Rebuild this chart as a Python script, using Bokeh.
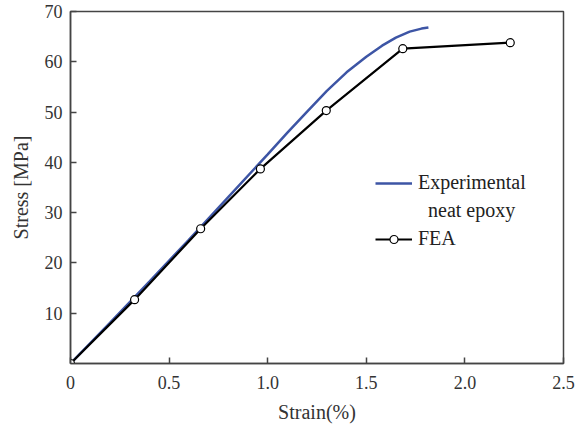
from bokeh.plotting import figure
from bokeh.models import FixedTicker, Legend, LegendItem, Range1d
from bokeh.embed import file_html
from bokeh.resources import INLINE

# Experimental neat epoxy curve
exp_strain = [0.0, 0.2, 0.4, 0.6, 0.8, 1.0, 1.1, 1.2, 1.3, 1.4, 1.5, 1.58, 1.65, 1.72, 1.78, 1.815]
exp_stress = [0.0, 8.1, 16.3, 24.6, 33.1, 41.6, 45.9, 50.1, 54.2, 57.9, 61.0, 63.2, 64.8, 66.0, 66.6, 66.8]

# FEA points
fea_strain = [0.0, 0.325, 0.66, 0.963, 1.297, 1.685, 2.23]
fea_stress = [0.0, 12.7, 26.8, 38.7, 50.3, 62.6, 63.8]

x_ticks = [0, 0.5, 1.0, 1.5, 2.0, 2.5]
x_tick_labels = ["0", "0.5", "1.0", "1.5", "2.0", "2.5"]
y_ticks = [10, 20, 30, 40, 50, 60, 70]

FONT = "Liberation Serif"

p = figure(width=586, height=424, output_backend="svg", toolbar_location=None,
           x_range=Range1d(0, 2.5), y_range=Range1d(0, 70),
           min_border_left=70, min_border_right=23, min_border_top=11, min_border_bottom=61)
p.frame_width = 493
p.frame_height = 352
p.grid.visible = False
p.outline_line_color = "#444444"
p.outline_line_width = 1.5
p.background_fill_color = "white"
p.border_fill_color = "white"

for ax in (p.xaxis[0], p.yaxis[0]):
    ax.axis_line_color = "#444444"
    ax.axis_line_width = 1.5
    ax.major_tick_line_color = "#444444"
    ax.major_tick_line_width = 1.5
    ax.major_tick_in = 6
    ax.major_tick_out = 0
    ax.minor_tick_line_color = None
    ax.major_label_text_font = FONT
    ax.major_label_text_font_size = "18px"
    ax.major_label_text_color = "#333333"
    ax.axis_label_text_font = FONT
    ax.axis_label_text_font_size = "20px"
    ax.axis_label_text_font_style = "normal"
    ax.axis_label_text_color = "#333333"

p.xaxis.ticker = FixedTicker(ticks=x_ticks)
p.xaxis.major_label_overrides = {t: l for t, l in zip(x_ticks, x_tick_labels)}
p.xaxis.axis_label = "Strain(%)"
p.xaxis.major_label_standoff = 12
p.xaxis.axis_label_standoff = 9
p.yaxis.ticker = FixedTicker(ticks=y_ticks)
p.yaxis.axis_label = "Stress [MPa]"
p.yaxis.major_label_standoff = 8
p.yaxis.axis_label_standoff = 10

r_exp = p.line(exp_strain, exp_stress, line_color="#3d55a5", line_width=2.5)
r_fea_l = p.line(fea_strain, fea_stress, line_color="black", line_width=2.2)
r_fea_c = p.scatter(fea_strain, fea_stress, marker="circle", size=8,
                    fill_color="white", line_color="black", line_width=1.2)
r_blank = p.line([], [], line_alpha=0)

legend = Legend(items=[LegendItem(label="Experimental", renderers=[r_exp]),
                       LegendItem(label="\u00a0\u00a0neat epoxy", renderers=[r_blank]),
                       LegendItem(label="FEA", renderers=[r_fea_l, r_fea_c])],
                location=(305, 113), border_line_color=None, background_fill_alpha=0,
                label_text_font=FONT, label_text_font_size="20px", label_text_color="#222222",
                glyph_width=37, glyph_height=20, label_height=20, label_standoff=6,
                spacing=5, padding=0, margin=0)
p.add_layout(legend)

open("out.html", "w").write(file_html(p, INLINE))
